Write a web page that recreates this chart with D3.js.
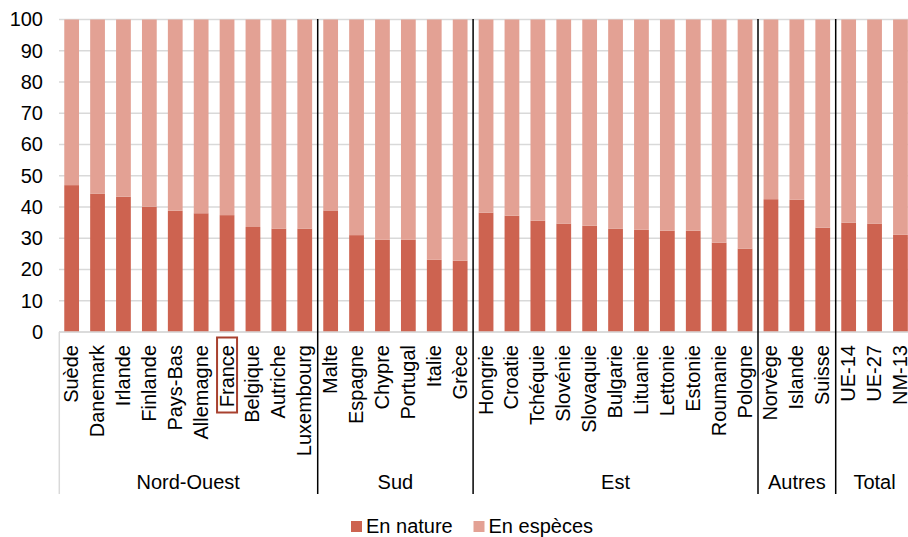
<!DOCTYPE html>
<html>
<head>
<meta charset="utf-8">
<script src="https://cdn.jsdelivr.net/npm/d3@7"></script>
<style>
  body { margin: 0; background: #fff; }
  svg text { font-family: "Liberation Sans", Arial, sans-serif; fill: #000; }
</style>
</head>
<body>
<div class="chart"></div>
<script>
// categories (in display order)
const countries = [
  "Suède", "Danemark", "Irlande", "Finlande", "Pays-Bas", "Allemagne", "France", "Belgique", "Autriche", "Luxembourg",
  "Malte", "Espagne", "Chypre", "Portugal", "Italie", "Grèce",
  "Hongrie", "Croatie", "Tchéquie", "Slovénie", "Slovaquie", "Bulgarie", "Lituanie", "Lettonie", "Estonie", "Roumanie", "Pologne",
  "Norvège", "Islande", "Suisse",
  "UE-14", "UE-27", "NM-13"
];
const groupNames = ["Nord-Ouest", "Sud", "Est", "Autres", "Total"];
const groupSizes = [10, 6, 11, 3, 3];

// share "en nature" (%), the rest is "en espèces"
const enNature = [
  47.0, 44.3, 43.3, 40.1, 38.8, 38.0, 37.4, 33.6, 33.1, 33.1,
  38.9, 31.0, 29.5, 29.5, 23.1, 22.8,
  38.2, 37.2, 35.6, 34.7, 34.0, 33.1, 32.7, 32.4, 32.4, 28.6, 26.7,
  42.5, 42.3, 33.4,
  35.0, 34.7, 31.1
];
const yTicks = [0, 10, 20, 30, 40, 50, 60, 70, 80, 90, 100];
const seriesNames = ["En nature", "En espèces"];
const highlighted = "France";

const width = 908, height = 537;
const colors = ["#cd6350", "#e3a194"];
const fontSize = "20px";

const svg = d3.select(".chart").append("svg")
    .attr("width", width)
    .attr("height", height);

const x = d3.scaleBand()
    .domain(countries)
    .range([58.7, 58.7 + 25.9 * countries.length])
    .paddingInner(0.43)
    .paddingOuter(0.215);

const y = d3.scaleLinear()
    .domain([0, 100])
    .range([332, 19.5]);

/* gridlines */
svg.append("g")
    .selectAll("line")
    .data(yTicks).enter()
    .append("line")
    .attr("x1", 59).attr("x2", width)
    .attr("y1", d => y(d)).attr("y2", d => y(d))
    .attr("stroke", "#d9d9d9")
    .attr("stroke-width", 1.5);

/* y axis labels */
const yAxis = d3.axisLeft(y).tickValues(yTicks).tickSize(0).tickPadding(0);
const ya = svg.append("g")
    .attr("transform", "translate(43,0)")
    .call(yAxis);
ya.select(".domain").remove();
ya.selectAll("text")
    .attr("font-size", fontSize)
    .attr("font-family", "Liberation Sans, Arial, sans-serif")
    .attr("fill", "#000");

/* stacked bars */
const rows = countries.map((c, i) => ({name: c, nature: enNature[i], especes: 100 - enNature[i]}));
const stack = d3.stack().keys(["nature", "especes"])(rows);

svg.append("g")
    .selectAll("g")
    .data(stack).enter()
    .append("g")
    .attr("fill", (d, i) => colors[i])
    .selectAll("rect")
    .data(d => d).enter()
    .append("rect")
    .attr("x", d => x(d.data.name))
    .attr("width", x.bandwidth())
    .attr("y", d => y(d[1]))
    .attr("height", d => y(d[0]) - y(d[1]));

/* bottom axis line and left border of the category area */
svg.append("line")
    .attr("x1", 59).attr("x2", width)
    .attr("y1", y(0)).attr("y2", y(0))
    .attr("stroke", "#d9d9d9").attr("stroke-width", 1.5);
svg.append("line")
    .attr("x1", 59.3).attr("x2", 59.3)
    .attr("y1", y(0)).attr("y2", 494)
    .attr("stroke", "#d9d9d9").attr("stroke-width", 1.5);

/* group separators */
let start = 0;
const groups = groupNames.map((g, i) => {
    const first = countries[start];
    const last = countries[start + groupSizes[i] - 1];
    start += groupSizes[i];
    return {name: g, first, last};
});
const step = x.step();
const groupLeft = g => x(g.first) - step * x.paddingOuter();
const groupRight = g => x(g.last) + x.bandwidth() + step * x.paddingOuter();

svg.append("g")
    .selectAll("line")
    .data(groups.slice(1)).enter()
    .append("line")
    .attr("x1", d => groupLeft(d)).attr("x2", d => groupLeft(d))
    .attr("y1", 19).attr("y2", 494)
    .attr("stroke", "#000")
    .attr("stroke-width", 1.5);

/* category labels */
svg.append("g")
    .selectAll("text")
    .data(countries).enter()
    .append("text")
    .attr("transform", d => `translate(${x(d) + x.bandwidth() / 2 + 6.5},345) rotate(-90)`)
    .attr("text-anchor", "end")
    .attr("font-size", fontSize)
    .text(d => d);

/* highlight box around France */
const hx = x(highlighted) + x.bandwidth() / 2;
svg.append("rect")
    .attr("x", hx - 10)
    .attr("y", 337.5)
    .attr("width", 20)
    .attr("height", 75)
    .attr("fill", "none")
    .attr("stroke", "#a8412f")
    .attr("stroke-width", 2);

/* group labels */
svg.append("g")
    .selectAll("text")
    .data(groups).enter()
    .append("text")
    .attr("x", d => (groupLeft(d) + groupRight(d)) / 2)
    .attr("y", 489)
    .attr("text-anchor", "middle")
    .attr("font-size", fontSize)
    .text(d => d.name);

/* legend */
const legendX = [351, 473.5];
const legend = svg.append("g")
    .selectAll("g")
    .data(seriesNames).enter()
    .append("g")
    .attr("transform", (d, i) => `translate(${legendX[i]},521)`);
legend.append("rect")
    .attr("width", 11).attr("height", 11)
    .attr("fill", (d, i) => colors[i]);
legend.append("text")
    .attr("x", 15).attr("y", 11.5)
    .attr("font-size", fontSize)
    .text(d => d);
</script>
</body>
</html>
